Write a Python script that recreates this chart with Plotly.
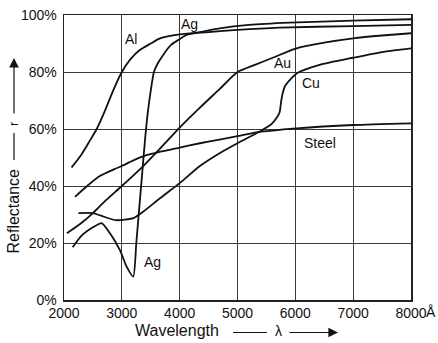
import plotly.graph_objects as go

# ---- data ----
al_x = [2130, 2300, 2450, 2565, 2700, 2850, 3000, 3150, 3310, 3500, 3660, 4000, 4500, 5000, 5730, 7000, 8000]
al_y = [46.5, 51, 56, 60, 66, 73.5, 80, 84.5, 87.7, 90, 91.8, 93.2, 94, 94.8, 95.6, 96.1, 96.5]

ag_x = [2150, 2300, 2500, 2650, 2795, 2967, 3083, 3197, 3250, 3300, 3350, 3400, 3450, 3500, 3555, 3620, 3715, 3850, 3975, 4120, 4400, 4690, 5200, 5900, 7000, 8000]
ag_y = [18.5, 22.5, 25.5, 27, 23.4, 17.5, 11.7, 8.2, 20, 32, 44, 56, 66, 73.5, 80, 83, 86, 89.5, 91.2, 93, 94.2, 95.3, 96.5, 97.3, 98, 98.5]

au_x = [2050, 2300, 2500, 2700, 3000, 3370, 3700, 4000, 4350, 4690, 5000, 5300, 5610, 6020, 6500, 7000, 7500, 8000]
au_y = [23.4, 27, 30.5, 34.5, 40, 47, 54, 60.5, 67.5, 74, 80, 82.5, 85, 88.3, 90.3, 91.8, 92.8, 93.6]

cu_x = [2250, 2500, 2650, 2900, 3200, 3370, 3660, 4000, 4350, 4690, 5000, 5330, 5500, 5600, 5680, 5730, 5750, 5775, 5820, 5930, 6050, 6420, 7000, 7500, 8000]
cu_y = [30.5, 30.5, 29.5, 28, 28.7, 31, 35.7, 41, 47, 51.5, 55, 58.5, 60.5, 62, 64, 66, 69, 72, 75, 77.8, 79.8, 82.5, 85, 87, 88.3]

steel_x = [2190, 2400, 2620, 2880, 3000, 3200, 3455, 4000, 4350, 4690, 5000, 5330, 6020, 7000, 8000]
steel_y = [36.2, 40, 43.5, 46, 47, 49, 51, 53.5, 55, 56.3, 57.5, 58.8, 60.2, 61.4, 62]

x_ticks = [2000, 3000, 4000, 5000, 6000, 7000, 8000]
x_ticktext = ["2000", "3000", "4000", "5000", "6000", "7000", "8000"]
y_ticks = [0, 20, 40, 60, 80, 100]
y_ticktext = ["0%", "20%", "40%", "60%", "80%", "100%"]

labels = ["Al", "Ag", "Au", "Cu", "Steel", "Ag"]
label_x = [3157, 4176, 5774, 6266, 6421, 3528]
label_y = [91.6, 96.8, 83.2, 76.3, 55.1, 13.5]

FONT = "Liberation Sans, Arial, sans-serif"
INK = "#111111"

fig = go.Figure()
for xs, ys in [(al_x, al_y), (ag_x, ag_y), (au_x, au_y), (cu_x, cu_y), (steel_x, steel_y)]:
    fig.add_trace(go.Scatter(x=xs, y=ys, mode="lines",
                             line=dict(color=INK, width=1.8, shape="spline", smoothing=0.6),
                             showlegend=False, hoverinfo="skip"))

for t, lx, ly in zip(labels, label_x, label_y):
    fig.add_annotation(x=lx, y=ly, text=t, showarrow=False,
                       xanchor="center", yanchor="middle",
                       font=dict(family=FONT, size=14, color=INK))

# plot area in page pixels: x 64..411, y 15..300
def px(xp):
    return (xp - 64) / 347.0

def py(yp):
    return (300 - yp) / 285.0

def note(x, y, text, size, angle=0):
    fig.add_annotation(x=px(x), y=py(y), xref="paper", yref="paper", text=text,
                       textangle=angle, showarrow=False, xanchor="center", yanchor="middle",
                       font=dict(family=FONT, size=size, color=INK))

# Angstrom after the last tick label
note(431, 312, "Å", 14)

# x-axis title with arrow
note(177, 331, "Wavelength", 16)
note(278.5, 331, "λ", 14)
fig.add_shape(type="line", xref="paper", yref="paper", x0=px(233), x1=px(267),
              y0=py(332.5), y1=py(332.5), line=dict(color=INK, width=1.2))
fig.add_annotation(x=px(338), y=py(332.5), xref="paper", yref="paper", text="",
                   showarrow=True, ax=-50, ay=0, arrowhead=2, arrowsize=1.6,
                   arrowwidth=1.2, arrowcolor=INK)

# y-axis title with arrow
note(13, 211.5, "Reflectance", 16, -90)
note(14, 124, "r", 13, -90)
fig.add_shape(type="line", xref="paper", yref="paper", x0=px(14), x1=px(14),
              y0=py(160), y1=py(133), line=dict(color=INK, width=1.2))
fig.add_annotation(x=px(14), y=py(58), xref="paper", yref="paper", text="",
                   showarrow=True, ax=0, ay=57, arrowhead=2, arrowsize=1.6,
                   arrowwidth=1.2, arrowcolor=INK)

axis_common = dict(showgrid=True, gridcolor="#3a3a3a", gridwidth=1,
                   showline=True, linecolor="#222222", linewidth=1.5, mirror=True,
                   zeroline=False, ticks="", automargin=False,
                   ticklabeloverflow="allow",
                   tickfont=dict(family=FONT, size=14, color=INK))

fig.update_xaxes(range=[2000, 8000], tickvals=x_ticks, ticktext=x_ticktext,
                 ticklabelstandoff=0, **axis_common)
fig.update_yaxes(range=[0, 100], tickvals=y_ticks, ticktext=y_ticktext,
                 ticklabelstandoff=3, **axis_common)

fig.update_layout(width=438, height=343,
                  margin=dict(l=64, r=27, t=15, b=43),
                  paper_bgcolor="white", plot_bgcolor="white",
                  font=dict(family=FONT, color=INK))

# remove the browser's default 8px body margin so the figure sits at (0, 0)
fig.write_html("out.html",
               config={"displayModeBar": False, "staticPlot": True},
               post_script="document.body.style.margin='0';document.body.style.overflow='hidden';")
